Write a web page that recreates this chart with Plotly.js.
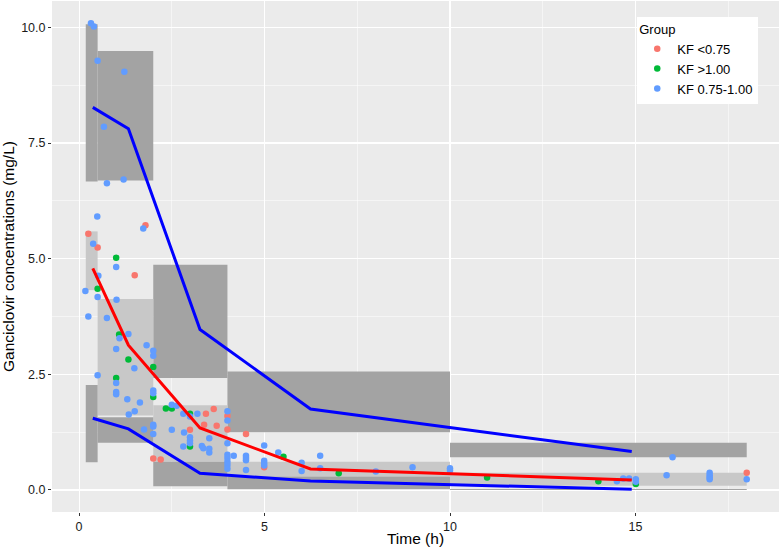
<!DOCTYPE html>
<html>
<head>
<meta charset="utf-8">
<script src="https://cdn.plot.ly/plotly-3.0.1.min.js"></script>
<style>
  html, body { margin: 0; padding: 0; background: #ffffff; }
  #chart { width: 782px; height: 547px; }
</style>
</head>
<body>
<div id="chart"></div>
<script>
/* ── 1. DATA ─────────────────────────────────────────────── */
const groups = ["KF <0.75", "KF >1.00", "KF 0.75-1.00"];

// observed concentrations per group
const redX   = [0.25, 0.50, 1.79, 1.50, 2.00, 2.20, 3.42, 3.63, 4.00, 4.00, 4.50, 2.99, 3.37, 3.71, 4.99, 18.0];
const redY   = [5.54, 5.24, 5.72, 4.64, 0.68, 0.66, 1.65, 1.75, 1.60, 1.31, 1.21, 1.30, 1.41, 1.39, 0.49, 0.37];

const greenX = [1.00, 0.50, 1.08, 1.33, 2.00, 1.00, 2.00, 2.34, 2.50, 2.99, 2.99, 5.51, 7.00, 11.0, 14.0, 15.01];
const greenY = [5.02, 4.35, 3.36, 2.82, 2.66, 2.42, 2.01, 1.76, 1.76, 1.65, 0.94, 0.72, 0.36, 0.27, 0.19, 0.13];

const blueX  = [0.32, 0.40, 0.50, 1.22, 0.67, 0.75, 1.20, 0.49, 1.73, 0.38, 1.00,
                0.52, 0.17, 0.50, 1.01, 0.25, 0.75, 1.33, 1.09,
                1.00, 1.82, 2.00, 2.00, 1.49, 0.50, 1.00, 1.00, 1.00, 2.00, 2.00, 1.30, 1.64, 1.50, 1.34, 2.00, 2.00, 1.75, 2.00, 2.50,
                2.50, 2.63, 2.81, 2.99, 3.19, 4.00, 4.00, 4.00, 2.83, 2.99, 2.99, 2.99, 2.81, 3.31, 3.35, 3.51, 3.51, 3.51,
                4.00, 4.00, 4.00, 4.00, 4.00, 4.17, 4.50, 4.50, 4.50, 4.50, 4.99, 4.99, 4.99, 4.99, 5.37, 6.00, 6.00, 6.50, 6.50, 8.00, 8.99, 10.0, 10.0,
                14.5, 14.67, 14.83, 15.01, 15.01, 16.0, 15.84, 17.0, 17.0, 17.0, 17.0, 18.0];
const blueY  = [10.09, 10.02, 9.28, 9.04, 7.85, 6.63, 6.71, 5.91, 5.65, 5.32, 4.82,
                4.63, 4.30, 4.17, 4.11, 3.75, 3.72, 3.37, 3.28,
                3.05, 3.13, 3.01, 2.90, 2.63, 2.48, 2.31, 2.12, 2.07, 2.15, 2.09, 1.96, 1.89, 1.70, 1.63, 1.41, 1.37, 1.31, 1.21, 1.30,
                1.84, 1.82, 1.65, 1.59, 1.65, 1.70, 1.50, 1.01, 1.24, 1.14, 1.07, 1.01, 0.94, 0.95, 0.90, 1.12, 0.89, 0.81,
                0.76, 0.69, 0.61, 0.54, 0.46, 0.74, 0.74, 0.69, 0.64, 0.43, 0.96, 0.63, 0.58, 0.53, 0.81, 0.59, 0.41, 0.74, 0.47, 0.40, 0.49, 0.47, 0.42,
                0.19, 0.25, 0.25, 0.23, 0.18, 0.71, 0.32, 0.37, 0.32, 0.27, 0.23, 0.23];

// time bins and simulated prediction-interval CIs
const binLo = [0.18, 0.50, 2.0, 4.0, 10.0];
const binHi = [0.50, 2.0, 4.0, 10.0, 18.0];
const upLo  = [6.67, 6.69, 2.42, 1.25, 0.71];
const upHi  = [10.07, 9.49, 4.87, 2.56, 1.02];
const medLo = [4.32, 1.61, 0.61, 0.29, 0.09];
const medHi = [5.59, 4.13, 1.83, 0.61, 0.37];
const lowLo = [0.60, 1.02, 0.08, 0.015, 0.0];
const lowHi = [2.27, 1.57, 0.61, 0.29, 0.02];

// observed percentiles at bin midpoints
const binMid = [0.37, 1.33, 3.26, 6.24, 14.9];
const obsP95 = [8.27, 7.81, 3.47, 1.75, 0.83];
const obsP50 = [4.79, 3.13, 1.34, 0.455, 0.217];
const obsP05 = [1.55, 1.32, 0.36, 0.195, 0.015];

/* ── 2. STYLE ────────────────────────────────────────────── */
const colors = {
    red   : "#F8766D",
    green : "#00BA38",
    blue  : "#619CFF",
    dark  : "#A3A3A3",
    light : "#C8C8C8",
    panel : "#EBEBEB"
};
const FONT = "Liberation Sans, Arial, sans-serif";

/* ── 3. BANDS AS SHAPES ──────────────────────────────────── */
function bandShapes(lo, hi, color) {
    return binLo.map((x0, i) => ({
        type: "rect", xref: "x", yref: "y", layer: "between",
        x0: x0, x1: binHi[i], y0: lo[i], y1: hi[i],
        fillcolor: color, line: { width: 0 }
    }));
}
const shapes = [
    ...bandShapes(upLo, upHi, colors.dark),
    ...bandShapes(medLo, medHi, colors.light),
    ...bandShapes(lowLo, lowHi, colors.dark)
];

/* ── 4. TRACES ───────────────────────────────────────────── */
function pointTrace(x, y, name, color) {
    return {
        x: x, y: y, type: "scatter", mode: "markers", name: name,
        marker: { color: color, size: 6.5 },
        hoverinfo: "x+y"
    };
}
function lineTrace(y, color) {
    return {
        x: binMid, y: y, type: "scatter", mode: "lines", showlegend: false,
        line: { color: color, width: 3 }, hoverinfo: "skip"
    };
}
const traces = [
    pointTrace(redX, redY, groups[0], colors.red),
    pointTrace(greenX, greenY, groups[1], colors.green),
    pointTrace(blueX, blueY, groups[2], colors.blue),
    lineTrace(obsP95, "#0000FF"),
    lineTrace(obsP05, "#0000FF"),
    lineTrace(obsP50, "#FF0000")
];

/* ── 5. LAYOUT ───────────────────────────────────────────── */
const axisCommon = {
    showline: false, zeroline: false,
    gridcolor: "#FFFFFF", gridwidth: 1.1,
    ticks: "outside", ticklen: 3, tickcolor: "#333333", tickwidth: 1,
    tickfont: { family: FONT, size: 12.5, color: "#1A1A1A" }
};
const layout = {
    width: 782, height: 547,
    margin: { l: 52, r: 3, t: 1, b: 35 },
    paper_bgcolor: "#FFFFFF",
    plot_bgcolor: colors.panel,
    font: { family: FONT, color: "#000000" },
    shapes: shapes,
    xaxis: {
        ...axisCommon,
        range: [-0.73, 18.87],
        tick0: 0, dtick: 5,
        minor: { tick0: 0, dtick: 2.5, showgrid: true, gridcolor: "#FFFFFF", gridwidth: 0.5, ticks: "" },
        title: { text: "Time (h)", font: { family: FONT, size: 15.5, color: "#000000" }, standoff: 5 }
    },
    yaxis: {
        ...axisCommon,
        range: [-0.476, 10.57],
        tick0: 0, dtick: 2.5, tickformat: ".1f",
        minor: { tick0: 0, dtick: 1.25, showgrid: true, gridcolor: "#FFFFFF", gridwidth: 0.5, ticks: "" },
        title: { text: "Ganciclovir concentrations (mg/L)", font: { family: FONT, size: 15.5, color: "#000000" }, standoff: 5 }
    },
    showlegend: true,
    legend: {
        x: 0.805, y: 0.969, xanchor: "left", yanchor: "top",
        bgcolor: "#FFFFFF", borderwidth: 0,
        font: { family: FONT, size: 13, color: "#000000" },
        title: { text: "Group", font: { family: FONT, size: 13, color: "#000000" } },
        itemsizing: "trace"
    }
};

Plotly.newPlot("chart", traces, layout, { displayModeBar: false, staticPlot: true });
</script>
</body>
</html>
